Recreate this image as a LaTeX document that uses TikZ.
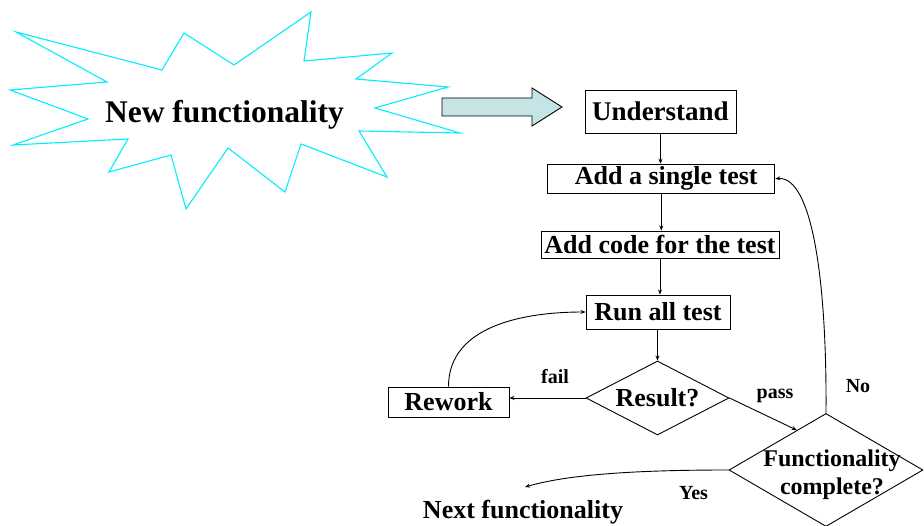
\documentclass[tikz,border=0pt]{standalone}
\usepackage{fontspec}
\setmainfont{Liberation Serif}
\usetikzlibrary{arrows.meta,shapes.geometric,calc}
\definecolor{burst}{RGB}{0,238,255}
\definecolor{blockfill}{RGB}{197,228,230}
\newcommand{\fsz}[2]{\bfseries\fontsize{#1}{#2}\selectfont}
\begin{document}
\begin{tikzpicture}[x=1pt,y=-1pt,
  stepbox/.style={draw, line width=0.9pt, inner sep=0pt, font=\fsz{26}{30}},
  choice/.style={draw, diamond, line width=0.9pt, inner sep=0pt},
  choicetext/.style={align=center, inner sep=0pt},
  flow/.style={-{Stealth[length=5pt,width=4pt]}, line width=0.9pt},
  lbl/.style={inner sep=0pt, font=\fsz{20}{24}}
]
\useasboundingbox (0,0) rectangle (924,526);

% starburst with the feature name
\filldraw[fill=white, draw=burst, line width=1.1pt]
  (16,32) -- (162,70) -- (184,33) -- (234,65) -- (311,12) -- (304,61)
  -- (392,53) -- (356,79) -- (448,87) -- (375,108) -- (460,133)
  -- (359,131) -- (387,177) -- (301,144) -- (285,192) -- (228,148)
  -- (186,209) -- (171,155) -- (109,172) -- (128,139) -- (13,145)
  -- (88,119) -- (10,90) -- (107,82) -- cycle;
\node[inner sep=0pt, font=\fsz{31.5}{36}] (newf) at (224.5,115) {New functionality};

% block arrow into the cycle
\filldraw[fill=blockfill, draw=black, line width=0.9pt]
  (442,98) -- (532,98) -- (532,88) -- (562,107) -- (532,126) -- (532,116) -- (442,116) -- cycle;

% steps
\node[stepbox, minimum width=151pt, minimum height=43pt, font=\fsz{27}{31}] (und) at (660.5,111.5) {Understand};
\node[stepbox, minimum width=227pt, minimum height=29pt] (single) at (661.3,178.7) {\hspace*{10pt}Add a single test};
\node[stepbox, minimum width=238pt, minimum height=27pt] (code) at (660,244.5) {Add code for the test};
\node[stepbox, minimum width=144pt, minimum height=34pt] (run) at (658,312) {Run all test};
\node[choice, minimum width=143pt, minimum height=74pt] (res) at (657.5,398) {};
\node[choicetext, font=\fsz{26}{30}] (restext) at (657.5,398) {Result?};
\node[stepbox, minimum width=121pt, minimum height=30pt] (rew) at (448.5,402) {Rework};
\node[choice, minimum width=194pt, minimum height=113pt] (fc) at (826,470) {};
\node[choicetext, font=\fsz{24}{28}] (fctext) at (832,475) {Functionality\\complete?};
\node[inner sep=0pt, font=\fsz{26}{30}] (next) at (523,512) {Next functionality};
\coordinate (nextin) at (525,487);

% connectors
\draw[flow] (und.south) -- (und.south |- single.north);
\draw[flow] (single.south) -- (single.south |- code.north);
\draw[flow] (code.south) -- (code.south |- run.north);
\draw[flow] (run.south -| res.north) -- (res.north);
\draw[flow] (res.west) -- (res.west -| rew.east);
\draw[flow] (rew.north) to[out=90, in=180] (run.west);
\draw[flow] (res.east) -- ($(fc.north)!0.3!(fc.west)$);
\draw[flow] (fc.north) .. controls (827,280) and (812,176) .. (single.east);
\draw[flow] (fc.west) .. controls (640,470) and (570,474) .. (nextin);

% branch labels
\node[lbl] (lfail) at (555,377) {fail};
\node[lbl] (lpass) at (775,396) {pass};
\node[lbl] (lno) at (858,386) {No};
\node[lbl] (lyes) at (693.5,493) {Yes};
\end{tikzpicture}
\end{document}
